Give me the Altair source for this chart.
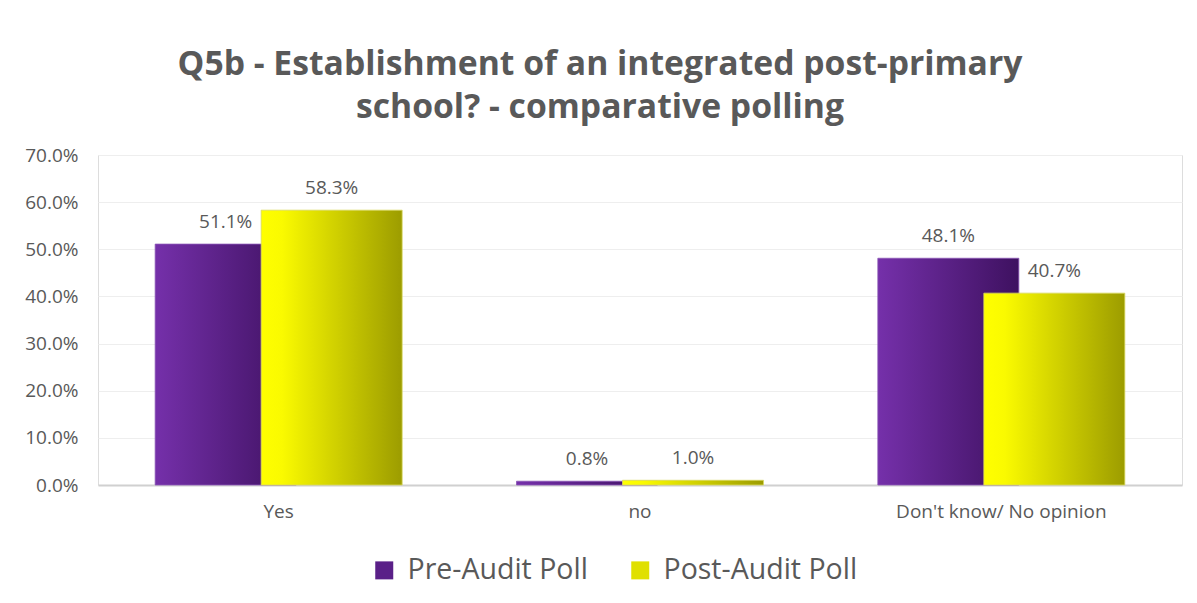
import altair as alt
import pandas as pd

categories = ["Yes", "no", "Don't know/ No opinion"]
series = ["Pre-Audit Poll", "Post-Audit Poll"]
pre_values = [0.511, 0.008, 0.481]
post_values = [0.583, 0.010, 0.407]
y_ticks = [0.0, 0.1, 0.2, 0.3, 0.4, 0.5, 0.6, 0.7]

pre_df = pd.DataFrame({"category": categories, "value": pre_values, "series": series[0]})
post_df = pd.DataFrame({"category": categories, "value": post_values, "series": series[1]})
all_df = pd.concat([pre_df, post_df], ignore_index=True)

FONT = "Open Sans"
GREY = "#595959"

purple_grad = alt.Gradient(
    gradient="linear", x1=0, x2=1, y1=0, y2=0,
    stops=[alt.GradientStop(offset=0, color="#7530aa"),
           alt.GradientStop(offset=1, color="#3e1160")],
)
yellow_grad = alt.Gradient(
    gradient="linear", x1=0, x2=1, y1=0, y2=0,
    stops=[alt.GradientStop(offset=0, color="#ffff00"),
           alt.GradientStop(offset=0.15, color="#fafa00"),
           alt.GradientStop(offset=1, color="#9c9c00")],
)

x_enc = alt.X(
    "category:N", sort=categories, title=None,
    scale=alt.Scale(paddingInner=0, paddingOuter=0),
    axis=alt.Axis(labelAngle=0, labelFontSize=19, labelColor=GREY, labelFont=FONT,
                  labelLimit=400,
                  ticks=False, labelPadding=17, domainColor="#d0d0d0", domainWidth=2,
                  grid=False),
)
y_enc = alt.Y(
    "value:Q", title=None,
    scale=alt.Scale(domain=[0, 0.7], nice=False),
    axis=alt.Axis(values=y_ticks, format=".1%", labelFontSize=19, labelColor=GREY,
                  labelFont=FONT, ticks=False, domain=False, labelPadding=20,
                  gridColor="#eeeeee", gridWidth=1),
)

OFF = 53
BW = 141

pre_bars = alt.Chart(pre_df).mark_bar(xOffset=-OFF, width=BW, color=purple_grad,
                                      stroke="#8a55b5", strokeWidth=0.8).encode(x=x_enc, y=y_enc)
post_bars = alt.Chart(post_df).mark_bar(xOffset=OFF, width=BW, color=yellow_grad,
                                        stroke="#d8d860", strokeWidth=0.8).encode(x=x_enc, y=y_enc)

pre_text = alt.Chart(pre_df).mark_text(xOffset=-OFF, dy=-16, fontSize=19, font=FONT,
                                       color=GREY, baseline="alphabetic").encode(
    x=x_enc, y=y_enc, text=alt.Text("value:Q", format=".1%"))
post_text = alt.Chart(post_df).mark_text(xOffset=OFF, dy=-16, fontSize=19, font=FONT,
                                         color=GREY, baseline="alphabetic").encode(
    x=x_enc, y=y_enc, text=alt.Text("value:Q", format=".1%"))

legend_layer = alt.Chart(all_df).mark_square(opacity=0).encode(
    x=x_enc, y=y_enc,
    color=alt.Color("series:N", sort=series,
                    scale=alt.Scale(domain=series, range=["#5a2088", "#e0e000"]),
                    legend=alt.Legend(title=None, orient="none", legendX=272, legendY=401,
                                      direction="horizontal",
                                      symbolType="square", symbolSize=324, symbolOpacity=1,
                                      labelFontSize=28.5, labelFont=FONT, labelColor=GREY,
                                      labelLimit=400,
                                      columnPadding=38, labelOffset=9,
                                      symbolStrokeWidth=0)),
)

chart = alt.layer(pre_bars, post_bars, pre_text, post_text, legend_layer).properties(
    width=1084, height=330,
    padding={"left": 90, "top": 147, "right": 7, "bottom": 110},
    autosize=alt.AutoSizeParams(type="none"),
    title=alt.TitleParams(
        text=["Q5b - Establishment of an integrated post-primary",
              "school? - comparative polling"],
        fontSize=33.7, font=FONT, fontWeight="bold", color=GREY,
        anchor="middle", lineHeight=43, offset=21, dx=-40,
    ),
).configure_view(stroke=None).configure(background="white")

chart.save("out.html", embed_options={"renderer": "svg", "actions": False})
